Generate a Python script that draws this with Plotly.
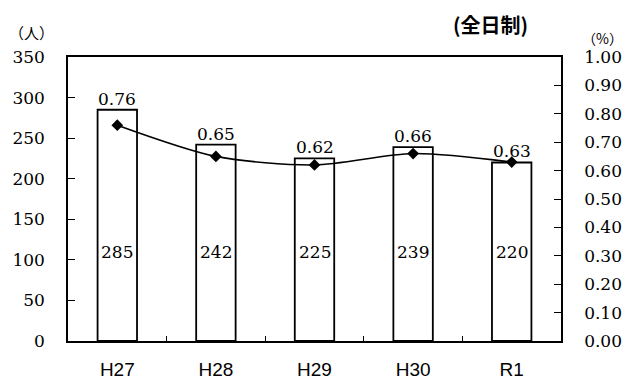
import plotly.graph_objects as go

# Enrolment counts (bars, left axis) and rate (line, right axis)
years = ["H27", "H28", "H29", "H30", "R1"]
counts = [285, 242, 225, 239, 220]
rates = [0.76, 0.65, 0.62, 0.66, 0.63]

count_label_level = 110  # height (in persons) where the count labels sit inside bars

serif = "DejaVu Serif"
sans = "Liberation Sans"

W, H = 638, 379
L, R, T, B = 68, 77, 57, 38

fig = go.Figure()

fig.add_trace(go.Bar(
    x=years, y=counts, width=0.4,
    marker=dict(color="white", line=dict(color="black", width=1.8)),
    hoverinfo="skip", showlegend=False,
))

fig.add_trace(go.Scatter(
    x=years, y=rates, yaxis="y2", mode="lines+markers",
    line=dict(color="black", width=1.6, shape="spline", smoothing=0.8),
    marker=dict(symbol="diamond", size=9, color="black"),
    showlegend=False,
))

annotations = []
for yr, c, r in zip(years, counts, rates):
    annotations.append(dict(
        x=yr, y=count_label_level, xref="x", yref="y", text=str(c),
        showarrow=False, font=dict(family=serif, size=17, color="black"),
    ))
    annotations.append(dict(
        x=yr, y=c, xref="x", yref="y", text=f"{r:.2f}",
        showarrow=False, yanchor="middle", yshift=11,
        font=dict(family=serif, size=17, color="black"),
    ))


def px_note(text, px, py, size, family="Noto Sans CJK JP"):
    # header text positioned by pixel location in the page
    return dict(
        text=text, showarrow=False, xref="paper", yref="paper",
        x=(px - L) / (W - L - R), y=(H - B - py) / (H - T - B),
        xanchor="center", yanchor="middle",
        font=dict(family=family, size=size, color="black"),
    )


annotations += [
    px_note("<b>(全日制)</b>", 490, 24, 20),
    px_note("（人）", 31, 32, 15),
    px_note("（%）", 602, 38, 14),
]

fig.update_layout(
    width=W, height=H,
    margin=dict(l=L, r=R, t=T, b=B, pad=0, autoexpand=False),
    paper_bgcolor="white", plot_bgcolor="white",
    annotations=annotations,
    xaxis=dict(
        type="category", showline=True, linecolor="black", linewidth=1.5, mirror=True,
        ticks="inside", tickson="boundaries", ticklen=5, tickcolor="black",
        showgrid=False, ticklabelstandoff=10, automargin=False,
        tickfont=dict(family=sans, size=19, color="black"),
    ),
    yaxis=dict(
        range=[0, 350], dtick=50, showline=True, linecolor="black", linewidth=1.5,
        ticks="inside", ticklen=7, tickcolor="black", showgrid=False, zeroline=False,
        ticklabelstandoff=18, automargin=False,
        tickfont=dict(family=serif, size=17, color="black"),
    ),
    yaxis2=dict(
        overlaying="y", side="right", range=[0, 1.0], dtick=0.1, tickformat=".2f",
        showline=True, linecolor="black", linewidth=1.5,
        ticks="inside", ticklen=7, tickcolor="black", showgrid=False, zeroline=False,
        ticklabelstandoff=18, automargin=False,
        tickfont=dict(family=serif, size=17, color="black"),
    ),
)

fig.write_html("out.html")
